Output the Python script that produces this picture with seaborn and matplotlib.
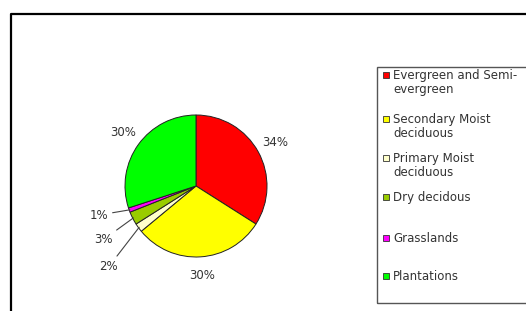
import numpy as np
import matplotlib
matplotlib.use("Agg")
import matplotlib.pyplot as plt
import seaborn as sns
from matplotlib.patches import Rectangle
from matplotlib.lines import Line2D

# ---------------------------------------- DATA ----------------------------------------
categories = [
    "Evergreen and Semi-\nevergreen",
    "Secondary Moist\ndeciduous",
    "Primary Moist\ndeciduous",
    "Dry decidous",
    "Grasslands",
    "Plantations",
]
shares = [34, 30, 2, 3, 1, 30]
pct_labels = ["34%", "30%", "2%", "3%", "1%", "30%"]
colors = ["#ff0000", "#ffff00", "#ffffcc", "#99cc00", "#ff00ff", "#00ff00"]

# ---------------------------------------- STYLE ----------------------------------------
sns.set_style("white")
plt.rcParams["font.family"] = ["DejaVu Sans"]
text_col = "#333333"

W, H = 526, 311
fig = plt.figure(figsize=(W / 100, H / 100), dpi=100)
fig.patch.set_facecolor("white")


def fx(px):
    return px / W


def fy(py):
    return 1 - py / H


# outer frame (only left + top visible)
fig.add_artist(Line2D([fx(11), fx(11), fx(W)], [fy(H), fy(14), fy(14)],
                      color="black", lw=1.6, transform=fig.transFigure))

# ---------------------------------------- PIE ----------------------------------------
cx, cy, r = 196, 186, 71
ax = fig.add_axes([fx(cx - r), fy(cy + r), 2 * r / W, 2 * r / H])
wedges, _ = ax.pie(shares, colors=colors, startangle=90, counterclock=False,
                   wedgeprops=dict(edgecolor="#222222", linewidth=0.7))
ax.set_xlim(-1, 1)
ax.set_ylim(-1, 1)
ax.axis("off")

# positions of labels for small slices (pie units)
small_label_xy = {2: (-1.10, -1.14), 3: (-1.18, -0.76), 4: (-1.24, -0.41)}

for i, w in enumerate(wedges):
    mid = np.deg2rad((w.theta1 + w.theta2) / 2)
    if i in small_label_xy:
        tx, ty = small_label_xy[i]
        ax.annotate(pct_labels[i], xy=(0.99 * np.cos(mid), 0.99 * np.sin(mid)),
                    xytext=(tx, ty), ha="right", va="center", fontsize=8.5,
                    color=text_col, annotation_clip=False,
                    arrowprops=dict(arrowstyle="-", color="#444444", lw=0.8,
                                    shrinkA=1, shrinkB=0))
    else:
        ax.text(1.27 * np.cos(mid), 1.27 * np.sin(mid), pct_labels[i],
                ha="center", va="center", fontsize=8.5, color=text_col,
                clip_on=False)

# ---------------------------------------- LEGEND ----------------------------------------
fig.add_artist(Rectangle((fx(377), fy(303)), fx(W + 5) - fx(377), fy(67) - fy(303),
                         transform=fig.transFigure, fill=False,
                         edgecolor="#555555", lw=1.0))

row_y = [75, 119, 158, 197, 238, 276]
for lab, col, yy in zip(categories, colors, row_y):
    fig.add_artist(Rectangle((fx(383), fy(yy + 3)), 6 / W, 6 / H,
                             transform=fig.transFigure, facecolor=col,
                             edgecolor="#333333", lw=0.6))
    fig.text(fx(393), fy(yy - 6), lab, ha="left", va="top", fontsize=8.5,
             color=text_col, linespacing=1.15)

fig.savefig("out.png", dpi=100)
